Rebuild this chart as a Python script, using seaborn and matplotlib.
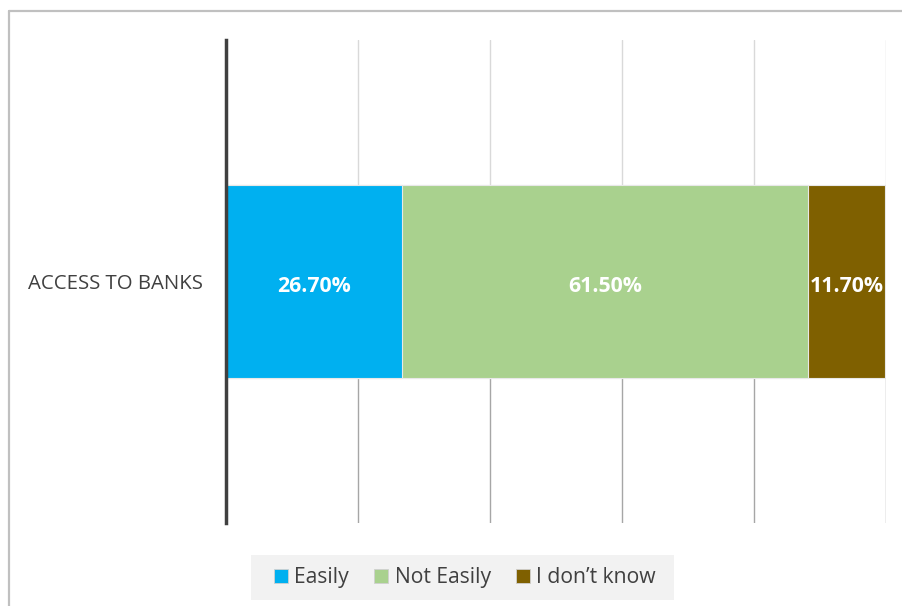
import numpy as np
import pandas as pd
import matplotlib
matplotlib.use("Agg")
import matplotlib.pyplot as plt
from matplotlib.patches import Patch, Rectangle
from matplotlib.lines import Line2D
import seaborn as sns

# Survey result: access to banks
category = ["ACCESS TO BANKS"]
series = ["Easily", "Not Easily", "I don\u2019t know"]
values = [26.7, 61.5, 11.7]
colors = ["#00B0F0", "#A9D18E", "#7F6000"]
x_ticks = [0, 20, 40, 60, 80, 100]

sns.set_theme(style="white")
plt.rcParams["font.family"] = ["Open Sans", "DejaVu Sans"]

W, H = 903, 606
fig = plt.figure(figsize=(W / 100, H / 100), dpi=100)
ax = fig.add_axes([226 / W, 83 / H, 660 / W, 483 / H])

# gridlines: light above the bar, darker below it
ax.set_xlim(0, 100)
for t in x_ticks[1:]:
    ax.axvline(t, ymin=0.60, ymax=1.0, color="#d9d9d9", lw=1.0, zorder=0)
    ax.axvline(t, ymin=0.0, ymax=0.40, color="#a6a6a6", lw=1.0, zorder=0)

# stacked bar built from overlapping cumulative totals
cum = np.cumsum(values)
for i in range(len(values) - 1, -1, -1):
    df = pd.DataFrame({"value": [cum[i]], "cat": category})
    sns.barplot(data=df, x="value", y="cat", orient="h", color=colors[i],
                width=0.4, saturation=1, edgecolor="#e8e8e8", linewidth=0.8,
                ax=ax, zorder=2)

# value labels in the middle of each segment
starts = np.concatenate([[0], cum[:-1]])
for s, v in zip(starts, values):
    ax.text(s + v / 2, 0.01, f"{v:.2f}%", ha="center", va="center",
            color="white", fontsize=15.3, fontweight="bold", zorder=3)

ax.set_xlim(0, 100)
ax.set_ylim(0.5, -0.5)
ax.set_xticks(x_ticks)
ax.set_xticklabels([])
ax.set_xlabel("")
ax.set_ylabel("")
ax.tick_params(axis="y", length=0, pad=16.5, labelsize=14.7, labelcolor="#404040")
for name in ["top", "right", "bottom"]:
    ax.spines[name].set_visible(False)
ax.spines["left"].set_color("#404040")
ax.spines["left"].set_linewidth(2.5)
ax.spines["left"].set_zorder(4)

# legend along the bottom on a light panel
fig.add_artist(Rectangle((251 / W, 1 - 600 / H), 423 / W, 45 / H,
                         transform=fig.transFigure, facecolor="#f2f2f2",
                         edgecolor="none", zorder=0))
handles = [Patch(facecolor=c, edgecolor="#d0d0d0", linewidth=0.6) for c in colors]
leg = fig.legend(handles, series, loc="center", bbox_to_anchor=(465 / W, 1 - 577.5 / H),
                 ncol=3, frameon=False, fontsize=15.2, handlelength=0.65, handleheight=0.65,
                 handletextpad=0.3, columnspacing=1.2, borderpad=0.5)
for t in leg.get_texts():
    t.set_color("#404040")

# chart frame (top and left edges visible)
fig.add_artist(Line2D([8.5 / W, 8.5 / W], [0, 1 - 10.5 / H], color="#c0c0c0", lw=1.6))
fig.add_artist(Line2D([8.5 / W, 1], [1 - 10.5 / H, 1 - 10.5 / H], color="#c0c0c0", lw=1.6))

fig.savefig("out.png", dpi=100)
